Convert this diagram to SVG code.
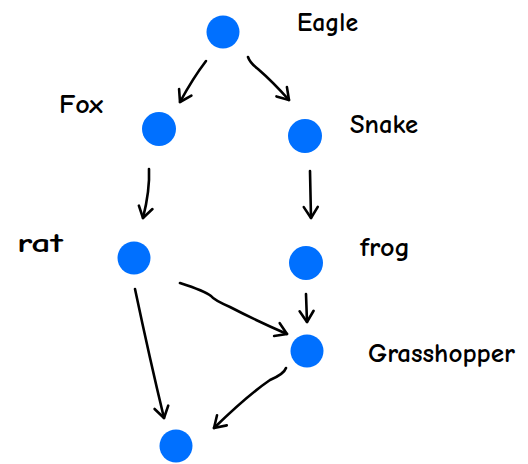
<svg xmlns="http://www.w3.org/2000/svg" width="528" height="464" viewBox="0 0 528 464">
  <defs>
    <marker id="head" viewBox="-14 -10 18 20" markerWidth="18" markerHeight="20" refX="0" refY="0" orient="auto" markerUnits="userSpaceOnUse">
      <path d="M-11,-7 L0,0 L-11,7" fill="none" stroke="#000" stroke-width="2.6" stroke-linecap="round" stroke-linejoin="round"/>
    </marker>
    <style>
      .node { fill: #0070FF; }
      .lbl { font-family: "Comic Neue", "Open Sans", "DejaVu Sans", sans-serif; font-size: 26px; font-weight: 700; fill: #000; }
      .edge { fill: none; stroke: #000; stroke-width: 2.6; stroke-linecap: round; stroke-linejoin: round; marker-end: url(#head); }
    </style>
  </defs>
  <rect width="528" height="464" fill="#fff"/>

  <g id="connectors">
    <path class="edge" d="M206,61 Q193,78 180,102"/>
    <path class="edge" d="M248,57 Q250,63 258,69 Q273,82 289,100"/>
    <path class="edge" d="M149,169 Q150,190 143,218"/>
    <path class="edge" d="M310,171 L311,218"/>
    <path class="edge" d="M180,283 Q205,291 211,296 Q214,300 230,307 Q255,320 287,334"/>
    <path class="edge" d="M306,294 L307,322"/>
    <path class="edge" d="M135,289 Q150,360 164,418"/>
    <path class="edge" d="M286,368 Q284,374 270,380 Q248,395 214,428"/>
  </g>

  <g id="eagle">
    <circle class="node" cx="223" cy="32" r="16.5"/>
    <text class="lbl" x="297" y="31" textLength="61" lengthAdjust="spacingAndGlyphs">Eagle</text>
  </g>
  <g id="fox">
    <circle class="node" cx="159" cy="129" r="17"/>
    <text class="lbl" x="59" y="113" textLength="44" lengthAdjust="spacingAndGlyphs">Fox</text>
  </g>
  <g id="snake">
    <circle class="node" cx="305" cy="136" r="17"/>
    <text class="lbl" x="350" y="133" textLength="68" lengthAdjust="spacingAndGlyphs">Snake</text>
  </g>
  <g id="rat">
    <circle class="node" cx="134" cy="258" r="16.5"/>
    <text class="lbl" x="17" y="252" textLength="46" lengthAdjust="spacingAndGlyphs">rat</text>
  </g>
  <g id="frog">
    <circle class="node" cx="306" cy="263" r="17"/>
    <text class="lbl" x="360" y="256" textLength="50" lengthAdjust="spacingAndGlyphs">frog</text>
  </g>
  <g id="grasshopper">
    <circle class="node" cx="307" cy="351" r="16.5"/>
    <text class="lbl" x="368" y="362" textLength="147" lengthAdjust="spacingAndGlyphs">Grasshopper</text>
  </g>
  <g id="plant">
    <circle class="node" cx="176" cy="446" r="16.5"/>
  </g>
</svg>
